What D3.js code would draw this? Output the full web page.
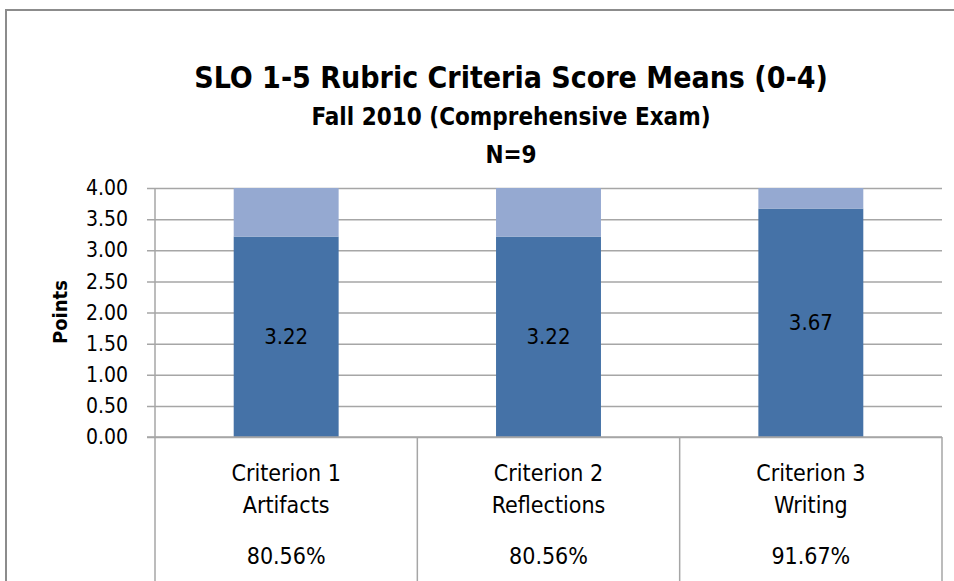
<!DOCTYPE html>
<html lang="en">
<head>
<meta charset="UTF-8">
<title>SLO 1-5 Rubric Criteria Score Means</title>
<script src="https://d3js.org/d3.v7.min.js"></script>
<style>
  * { margin: 0; padding: 0; box-sizing: border-box; }
  body { background: #fff; width: 954px; height: 581px; overflow: hidden; }
  svg text { font-family: "DejaVu Sans Condensed", "Liberation Sans Narrow", "Open Sans", sans-serif; fill: #000; }
</style>
</head>
<body>
<div id="chart"></div>
<script>
// chart data
const criteria = ["Criterion 1", "Criterion 2", "Criterion 3"];
const criteriaSub = ["Artifacts", "Reflections", "Writing"];
const means = [3.22, 3.22, 3.67];
const remainder = [0.78, 0.78, 0.33];
const percents = ["80.56%", "80.56%", "91.67%"];
const yTicks = [0, 0.5, 1, 1.5, 2, 2.5, 3, 3.5, 4];

const W = 954, H = 581;
const plot = {left: 155, right: 942, top: 188, bottom: 437};

const svg = d3.select("#chart").append("svg")
    .attr("width", W)
    .attr("height", H);

// outer chart border
svg.append("rect")
    .attr("x", 6).attr("y", 10)
    .attr("width", W + 20).attr("height", H + 20)
    .attr("fill", "none")
    .attr("stroke", "#8c8c8c")
    .attr("stroke-width", 2);

const x = d3.scaleBand()
    .domain(criteria)
    .range([plot.left, plot.right])
    .paddingInner(0)
    .paddingOuter(0);

const y = d3.scaleLinear()
    .domain([0, 4])
    .range([plot.bottom, plot.top]);

const barW = x.bandwidth() * 0.4;

// gridlines + y axis
const yAxis = svg.append("g")
    .attr("transform", `translate(${plot.left},0)`)
    .call(d3.axisLeft(y).tickValues(yTicks).tickFormat(d3.format(".2f"))
        .tickSize(-(plot.right - plot.left)));
yAxis.select(".domain").remove();
yAxis.selectAll(".tick line")
    .attr("x1", -8)
    .attr("stroke", "#a6a6a6")
    .attr("stroke-width", 1.5);
yAxis.selectAll(".tick text")
    .attr("x", -27)
    .style("font-size", "21px")
    .attr("fill", "#000");

// vertical axis line
svg.append("line")
    .attr("x1", plot.left).attr("x2", plot.left)
    .attr("y1", plot.top).attr("y2", plot.bottom)
    .attr("stroke", "#a6a6a6").attr("stroke-width", 1.5);

// stacked bars
const stackData = criteria.map((c, i) => ({c, mean: means[i], rest: remainder[i]}));
const g = svg.append("g");
g.selectAll(".mean").data(stackData).enter().append("rect")
    .attr("x", d => x(d.c) + (x.bandwidth() - barW) / 2)
    .attr("width", barW)
    .attr("y", d => y(d.mean))
    .attr("height", d => y(0) - y(d.mean))
    .attr("fill", "#4572a7");
g.selectAll(".rest").data(stackData).enter().append("rect")
    .attr("x", d => x(d.c) + (x.bandwidth() - barW) / 2)
    .attr("width", barW)
    .attr("y", d => y(d.mean + d.rest))
    .attr("height", d => y(d.mean) - y(d.mean + d.rest))
    .attr("fill", "#95a9d1");

// data labels
g.selectAll(".lbl").data(stackData).enter().append("text")
    .attr("x", d => x(d.c) + x.bandwidth() / 2)
    .attr("y", d => y(d.mean / 2))
    .attr("dy", "0.35em")
    .attr("text-anchor", "middle")
    .style("font-size", "22px")
    .text(d => d.mean.toFixed(2));

// category table below axis
const tableBottom = H + 5;
svg.append("line")
    .attr("x1", plot.left - 8).attr("x2", plot.right)
    .attr("y1", plot.bottom).attr("y2", plot.bottom)
    .attr("stroke", "#a6a6a6").attr("stroke-width", 1.5);
const seps = criteria.map(c => x(c)).concat([plot.right]);
svg.selectAll(".sep").data(seps).enter().append("line")
    .attr("x1", d => d).attr("x2", d => d)
    .attr("y1", plot.bottom).attr("y2", tableBottom)
    .attr("stroke", "#a6a6a6").attr("stroke-width", 1.5);

const cat = svg.selectAll(".cat").data(criteria).enter().append("g")
    .attr("transform", d => `translate(${x(d) + x.bandwidth() / 2},0)`);
cat.append("text").attr("y", 481).attr("text-anchor", "middle")
    .style("font-size", "23px").text(d => d);
cat.append("text").attr("y", 513).attr("text-anchor", "middle")
    .style("font-size", "23px").text((d, i) => criteriaSub[i]);
cat.append("text").attr("y", 564).attr("text-anchor", "middle")
    .style("font-size", "23px").text((d, i) => percents[i]);

// y axis title
svg.append("text")
    .attr("transform", "translate(67,312) rotate(-90)")
    .attr("text-anchor", "middle")
    .style("font-size", "20px").style("font-weight", "bold")
    .text("Points");

// titles
const cx = 511;
svg.append("text").attr("x", cx).attr("y", 88).attr("text-anchor", "middle")
    .style("font-size", "30px").style("font-weight", "bold")
    .text("SLO 1-5 Rubric Criteria Score Means (0-4)");
svg.append("text").attr("x", cx).attr("y", 125).attr("text-anchor", "middle")
    .style("font-size", "24px").style("font-weight", "bold")
    .text("Fall 2010 (Comprehensive Exam)");
svg.append("text").attr("x", cx).attr("y", 163).attr("text-anchor", "middle")
    .style("font-size", "24px").style("font-weight", "bold")
    .text("N=9");
</script>
</body>
</html>
